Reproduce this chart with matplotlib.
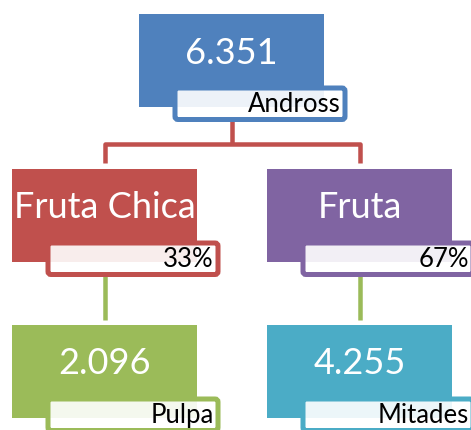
import matplotlib
matplotlib.use("Agg")
import matplotlib.pyplot as plt
from matplotlib.patches import Rectangle, FancyBboxPatch
from matplotlib.lines import Line2D

# ---- data ----
node_titles = ["6.351", "Fruta Chica", "Fruta", "2.096", "4.255"]
node_labels = ["Andross", "33%", "67%", "Pulpa", "Mitades"]
node_parents = [None, 0, 0, 1, 2]
node_levels = [0, 1, 1, 2, 2]
node_colors = ["#4F81BD", "#C0504D", "#8064A2", "#9BBB59", "#4BACC6"]

# ---- layout (pixels) ----
W, H = 471, 430
fig = plt.figure(figsize=(W / 100, H / 100), dpi=100)
ax = fig.add_axes([0, 0, 1, 1])
ax.set_xlim(0, W)
ax.set_ylim(H, 0)
ax.axis("off")

PX = 72 / 100  # points per pixel
box_w, box_h = 185, 93
pos = {0: (139, 14), 1: (12, 169), 2: (267, 169), 3: (12, 325), 4: (267, 325)}
lab_dx, lab_w = 36, 170
lab_dy, lab_h = 74, 31.5

FONT = "Lato"

def center_x(i):
    return pos[i][0] + box_w / 2

def level_color(level):
    return node_colors[node_levels.index(level)]

# connectors
children = {}
for i, p in enumerate(node_parents):
    if p is not None:
        children.setdefault(p, []).append(i)

for p, ch in children.items():
    px = center_x(p)
    py0 = pos[p][1] + lab_dy + lab_h
    col = level_color(node_levels[ch[0]])
    if len(ch) == 1:
        c = ch[0]
        ax.add_line(Line2D([px, px], [py0, pos[c][1] - 5], color=col,
                           lw=4.5 * PX, solid_capstyle="butt", zorder=1))
    else:
        ctop = pos[ch[0]][1]
        ymid = ctop - 25
        ax.add_line(Line2D([px, px], [py0, ymid], color=col, lw=4.5 * PX,
                           solid_capstyle="butt", zorder=1))
        xs = [center_x(c) for c in ch]
        ax.add_line(Line2D([xs[0], xs[0], xs[-1], xs[-1]],
                           [ctop - 6, ymid, ymid, ctop - 6], color=col,
                           lw=4.5 * PX, solid_capstyle="butt",
                           solid_joinstyle="round", zorder=1))

for i in range(len(node_titles)):
    x, y = pos[i]
    col = node_colors[i]
    ax.add_patch(Rectangle((x, y), box_w, box_h, facecolor=col,
                           edgecolor="none", zorder=2))
    ax.text(x + box_w / 2, y + 39, node_titles[i], color="white",
            fontsize=26, family=FONT, ha="center", va="center", zorder=4)
    lx, ly = x + lab_dx, y + lab_dy
    ax.add_patch(FancyBboxPatch((lx, ly), lab_w, lab_h,
                                boxstyle="round,pad=0,rounding_size=3",
                                facecolor=(1, 1, 1, 0.9), edgecolor=col,
                                lw=5 * PX, zorder=3))
    ax.text(lx + lab_w - 4, ly + lab_h / 2 + 1, node_labels[i], color="black",
            fontsize=18.5, family=FONT, ha="right", va="center", zorder=4)

fig.savefig("out.png", dpi=100)
